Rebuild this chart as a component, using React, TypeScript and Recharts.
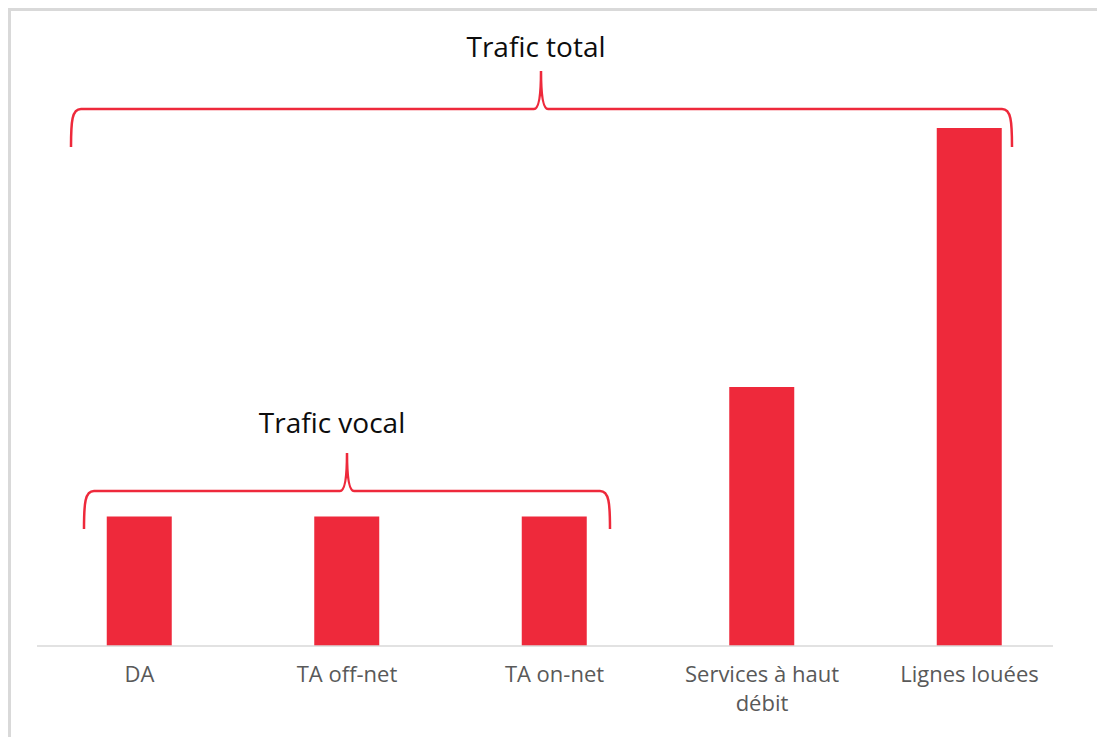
import React from 'react'
import { BarChart, Bar, XAxis, YAxis } from 'recharts'

// categories and values (relative heights)
const categories = ['DA', 'TA off-net', 'TA on-net', 'Services à haut débit', 'Lignes louées']
const trafic = [1, 1, 1, 2, 4]
const groupLabels = ['Trafic total', 'Trafic vocal']

const data = categories.map((name, i) => ({ name, trafic: trafic[i] }))

const RED = '#EE293B'
const FONT = '"Open Sans", "DejaVu Sans", sans-serif'

const W = 1097
const H = 729

// greedy word wrap on a character budget
const wrapLabel = (label: string, maxChars = 16) => {
  const lines: string[] = []
  let cur = ''
  label.split(' ').forEach((w) => {
    const next = cur ? `${cur} ${w}` : w
    if (next.length > maxChars && cur) {
      lines.push(cur)
      cur = w
    } else {
      cur = next
    }
  })
  if (cur) lines.push(cur)
  return lines
}

// eslint-disable-next-line @typescript-eslint/no-explicit-any
const CategoryTick = (props: any) => {
  const { x, y, payload } = props
  const lines = wrapLabel(String(payload.value))
  return (
    <text
      x={x}
      y={y + 28}
      textAnchor="middle"
      fontSize={22}
      fontFamily={FONT}
      fill="#595959"
    >
      {lines.map((ln, i) => (
        <tspan key={i} x={x} dy={i === 0 ? 0 : 29}>
          {ln}
        </tspan>
      ))}
    </text>
  )
}

interface BraceProps {
  x1: number
  x2: number
  xt: number
  yh: number
  yb: number
  yt: number
}

// curly brace drawn over the chart
const Brace = ({ x1, x2, xt, yh, yb, yt }: BraceProps) => {
  const d = [
    `M ${x1} ${yb}`,
    `C ${x1} ${yh + 12}, ${x1 + 1} ${yh}, ${x1 + 10} ${yh}`,
    `L ${xt - 7} ${yh}`,
    `Q ${xt} ${yh} ${xt} ${yt}`,
    `Q ${xt} ${yh} ${xt + 7} ${yh}`,
    `L ${x2 - 10} ${yh}`,
    `C ${x2 - 1} ${yh}, ${x2} ${yh + 12}, ${x2} ${yb}`
  ].join(' ')
  return <path d={d} fill="none" stroke={RED} strokeWidth={2.5} />
}

export default function App() {
  return (
    <div style={{ position: 'relative', width: W, height: H }}>
      <div
        style={{
          position: 'absolute',
          left: 0,
          top: 0,
          width: W,
          height: H,
          boxSizing: 'border-box',
          borderTop: '3px solid #d9d9d9',
          borderLeft: '3px solid #d9d9d9'
        }}
      />
      <div style={{ position: 'absolute', left: 0, top: 0 }}>
        <BarChart
          width={W}
          height={H}
          data={data}
          margin={{ top: 120, right: 52, left: 29, bottom: 31 }}
        >
          <XAxis
            dataKey="name"
            height={60}
            interval={0}
            padding={{ left: -1.25, right: -20.25 }}
            axisLine={{ stroke: '#d9d9d9', strokeWidth: 1.5 }}
            tickLine={false}
            tick={<CategoryTick />}
          />
          <YAxis hide domain={[0, 4]} />
          <Bar dataKey="trafic" fill={RED} barSize={65} isAnimationActive={false} />
        </BarChart>
      </div>
      <svg
        width={W}
        height={H}
        style={{ position: 'absolute', left: 0, top: 0, pointerEvents: 'none' }}
      >
        <Brace x1={63} x2={1004} xt={533} yh={101} yb={139} yt={63} />
        <Brace x1={76} x2={602} xt={339} yh={483} yb={521} yt={445} />
        <text x={528} y={49} textAnchor="middle" fontSize={28} fontFamily={FONT} fill="#0d0d0d">
          {groupLabels[0]}
        </text>
        <text x={324} y={425} textAnchor="middle" fontSize={28} fontFamily={FONT} fill="#0d0d0d">
          {groupLabels[1]}
        </text>
      </svg>
    </div>
  )
}
